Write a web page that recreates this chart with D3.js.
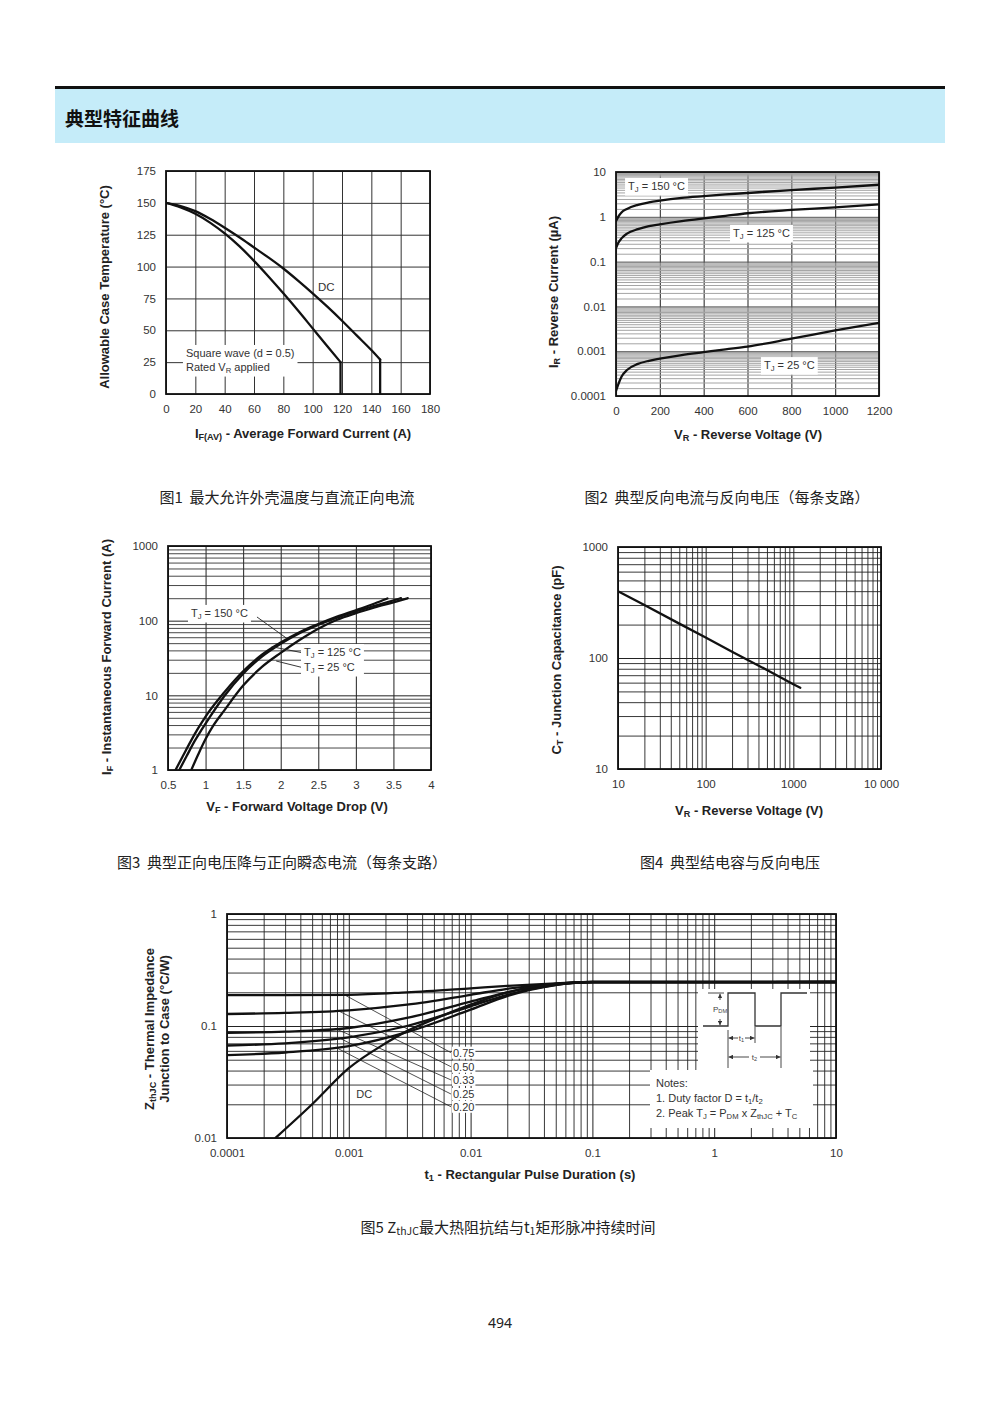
<!DOCTYPE html>
<html>
<head>
<meta charset="utf-8">
<title>典型特征曲线</title>
<script src="https://cdn.jsdelivr.net/npm/d3@7/dist/d3.min.js"></script>
<style>
html,body{margin:0;padding:0;background:#fff;}
svg{display:block;}
text.cap{white-space:pre;}
</style>
</head>
<body>
<svg id="page" width="1000" height="1414" xmlns="http://www.w3.org/2000/svg"></svg>
<script>
// ================= DATA =================
// Fig 1 : Allowable case temperature vs average forward current
const fig1XTicks = [0, 20, 40, 60, 80, 100, 120, 140, 160, 180];
const fig1YTicks = [0, 25, 50, 75, 100, 125, 150, 175];
const fig1SquareWave = [[0,150],[10,146.5],[20,141.5],[30,134.5],[40,126],[50,116],[60,104.5],[70,92],[80,79],[90,65.5],[100,51.5],[110,37.5],[119,25],[119,0]];
const fig1DC = [[0,150],[10,147.5],[20,143.5],[30,137.5],[40,130.5],[50,123],[60,115],[70,107],[80,98.5],[90,89],[100,79],[110,68.5],[120,57.5],[130,46],[140,34.5],[146,27],[146,0]];

// Fig 2 : Reverse current vs reverse voltage
const fig2XTicks = [0, 200, 400, 600, 800, 1000, 1200];
const fig2YTicks = [0.0001, 0.001, 0.01, 0.1, 1, 10];
const fig2YLabels = ["0.0001", "0.001", "0.01", "0.1", "1", "10"];
const fig2MinorSteps = [1.5, 2, 2.5, 3, 3.5, 4, 4.5, 5, 5.5, 6, 6.5, 7, 7.5, 8, 8.5, 9, 9.5];
const fig2Tj150 = [[0,0.8],[10,1.0],[25,1.25],[50,1.5],[100,1.85],[150,2.1],[200,2.3],[300,2.65],[400,2.9],[500,3.15],[600,3.4],[800,3.95],[1000,4.5],[1200,5.2]];
const fig2Tj125 = [[0,0.2],[10,0.26],[25,0.33],[50,0.42],[100,0.53],[150,0.62],[200,0.68],[300,0.8],[400,0.92],[500,1.05],[600,1.2],[800,1.42],[1000,1.62],[1200,1.9]];
const fig2Tj25 = [[0,0.00013],[10,0.00018],[25,0.00027],[50,0.00038],[100,0.00052],[150,0.00061],[200,0.00068],[300,0.00082],[400,0.00095],[500,0.0011],[600,0.00127],[800,0.0019],[1000,0.0029],[1200,0.0043]];

// Fig 3 : Forward current vs forward voltage drop
const fig3XTicks = [0.5, 1, 1.5, 2, 2.5, 3, 3.5, 4];
const fig3YTicks = [1, 10, 100, 1000];
const fig3Tj150 = [[0.6,1],[0.7,1.55],[0.8,2.4],[0.9,3.6],[1.0,5.2],[1.25,11],[1.5,21],[1.75,35],[2.0,51],[2.25,70],[2.5,90],[2.75,113],[3.0,138],[3.25,170],[3.42,198]];
const fig3Tj125 = [[0.65,1],[0.75,1.55],[0.85,2.4],[0.95,3.5],[1.05,5],[1.25,9.8],[1.5,19.5],[1.75,33],[2.0,49],[2.25,68],[2.5,88],[2.75,110],[3.0,133],[3.25,158],[3.6,200]];
const fig3Tj25 = [[0.81,1],[0.9,1.6],[1.0,2.6],[1.1,3.9],[1.25,6.3],[1.5,13.5],[1.75,24],[2.0,37],[2.25,55],[2.5,78],[2.75,103],[3.0,126],[3.25,150],[3.5,176],[3.69,200]];

// Fig 4 : Junction capacitance vs reverse voltage
const fig4XTicks = [10, 100, 1000, 10000];
const fig4XLabels = ["10", "100", "1000", "10 000"];
const fig4YTicks = [10, 100, 1000];
const fig4Cap = [[10,400],[20,300],[50,204],[100,153],[200,114],[500,78],[1000,58],[1200,54]];

// Fig 5 : Thermal impedance vs pulse duration
const fig5XTicks = [0.0001, 0.001, 0.01, 0.1, 1, 10];
const fig5XLabels = ["0.0001", "0.001", "0.01", "0.1", "1", "10"];
const fig5YTicks = [0.01, 0.1, 1];
const fig5YLabels = ["0.01", "0.1", "1"];
const fig5D075 = [[0.0001,0.189],[0.0003,0.189],[0.001,0.19],[0.003,0.2],[0.01,0.217],[0.02,0.228],[0.05,0.24],[0.1,0.247],[10,0.247]];
const fig5D050 = [[0.0001,0.128],[0.0003,0.131],[0.001,0.138],[0.003,0.155],[0.01,0.19],[0.02,0.215],[0.05,0.238],[0.1,0.247],[10,0.247]];
const fig5D033 = [[0.0001,0.087],[0.0003,0.089],[0.001,0.096],[0.003,0.118],[0.01,0.165],[0.02,0.2],[0.05,0.235],[0.1,0.246],[10,0.247]];
const fig5D025 = [[0.0001,0.067],[0.0003,0.07],[0.001,0.079],[0.003,0.1],[0.01,0.15],[0.02,0.19],[0.05,0.233],[0.1,0.246],[10,0.247]];
const fig5D020 = [[0.0001,0.055],[0.0003,0.058],[0.001,0.066],[0.003,0.088],[0.01,0.14],[0.02,0.185],[0.05,0.232],[0.1,0.246],[10,0.247]];
const fig5DC = [[0.00025,0.01],[0.0005,0.02],[0.001,0.042],[0.002,0.07],[0.003,0.09],[0.005,0.115],[0.01,0.155],[0.02,0.2],[0.05,0.238],[0.1,0.247],[10,0.247]];
const fig5DutyLabels = ["0.75", "0.50", "0.33", "0.25", "0.20"];
const fig5LeaderStart = [[0.00092,0.19],[0.00084,0.135],[0.00079,0.094],[0.00084,0.078],[0.00079,0.064]];
const fig5LabelY = [0.0578, 0.0433, 0.033, 0.0247, 0.019];
const fig5LabelX = 0.0069;

// ================= DRAWING =================
const svg = d3.select("#page");
const LAT = '"Liberation Sans", Arial, Helvetica, sans-serif';
const CJK = '"Noto Sans CJK SC", "Noto Sans", sans-serif';
const TICK_FS = 11.5, TITLE_FS = 13;

svg.append("defs").html(
  '<marker id="arr" viewBox="0 0 6 6" refX="6" refY="3" markerWidth="5" markerHeight="5" orient="auto-start-reverse"><path d="M0,0L6,3L0,6Z" fill="#333"/></marker>'
);

function richText(g, x, y, parts, o) {
  const fs = o.size;
  const t = g.append("text").attr("x", x).attr("y", y)
    .attr("font-size", fs).attr("font-family", o.family || LAT)
    .attr("font-weight", o.weight || "normal").attr("fill", o.fill || "#333")
    .attr("text-anchor", o.anchor || "start");
  if (o.baseline) t.attr("dominant-baseline", o.baseline);
  if (o.rotate) t.attr("transform", `rotate(-90 ${x} ${y})`);
  if (o.cls) t.attr("class", o.cls);
  let sub = false; const sh = fs * 0.28;
  parts.forEach(p => {
    const isSub = typeof p === "object";
    const ts = t.append("tspan").text(isSub ? p.sub : p);
    if (isSub) ts.attr("font-size", fs * 0.7);
    if (isSub && !sub) ts.attr("dy", sh);
    else if (!isSub && sub) ts.attr("dy", -sh);
    sub = isSub;
  });
  return t;
}
function boxBehind(g, nodes, padX, padY) {
  let x0 = Infinity, y0 = Infinity, x1 = -Infinity, y1 = -Infinity;
  nodes.forEach(n => { const b = n.node().getBBox(); x0 = Math.min(x0, b.x); y0 = Math.min(y0, b.y); x1 = Math.max(x1, b.x + b.width); y1 = Math.max(y1, b.y + b.height); });
  g.insert("rect", () => nodes[0].node())
    .attr("x", x0 - padX).attr("y", y0 - padY).attr("width", x1 - x0 + 2 * padX).attr("height", y1 - y0 + 2 * padY)
    .attr("fill", "#fff");
}
function caption(x, y, str) {
  svg.append("text").attr("class", "cap").attr("x", x).attr("y", y)
    .attr("dominant-baseline", "central").attr("text-anchor", "middle")
    .attr("font-family", CJK).attr("font-size", 15).attr("fill", "#222").text(str);
}

let clipId = 0;
function panel(c) {
  const g = svg.append("g").attr("transform", `translate(${c.left},${c.top})`);
  const x = (c.xLog ? d3.scaleLog() : d3.scaleLinear()).domain(c.xDomain).range([0, c.w]);
  const y = (c.yLog ? d3.scaleLog() : d3.scaleLinear()).domain(c.yDomain).range([c.h, 0]);
  g.append("rect").attr("width", c.w).attr("height", c.h).attr("fill", "#fff");
  const grid = g.append("g");
  (c.xGrid || []).forEach(s => {
    const a = grid.append("g").attr("transform", `translate(0,${c.h})`)
      .call(d3.axisBottom(x).tickValues(s.vals).tickSize(-c.h).tickFormat(""));
    a.select(".domain").remove();
    a.selectAll("line").attr("stroke", s.color).attr("stroke-width", s.width);
  });
  (c.yGrid || []).forEach(s => {
    const a = grid.append("g")
      .call(d3.axisLeft(y).tickValues(s.vals).tickSize(-c.w).tickFormat(""));
    a.select(".domain").remove();
    a.selectAll("line").attr("stroke", s.color).attr("stroke-width", s.width);
  });
  const ax = g.append("g").attr("transform", `translate(0,${c.h})`)
    .call(d3.axisBottom(x).tickValues(c.xTicks).tickSize(0).tickPadding(11).tickFormat((d, i) => c.xLabels[i]));
  ax.select(".domain").remove();
  ax.selectAll("text").attr("font-size", TICK_FS).attr("font-family", LAT).attr("fill", "#333");
  const ay = g.append("g")
    .call(d3.axisLeft(y).tickValues(c.yTicks).tickSize(0).tickPadding(10).tickFormat((d, i) => c.yLabels[i]));
  ay.select(".domain").remove();
  ay.selectAll("text").attr("font-size", TICK_FS).attr("font-family", LAT).attr("fill", "#333");
  const id = "clip" + (clipId++);
  g.append("clipPath").attr("id", id).append("rect").attr("width", c.w).attr("height", c.h);
  const annot = g.append("g");
  const marks = g.append("g").attr("clip-path", `url(#${id})`);
  const top = g.append("g");
  return {
    g, x, y, annot, marks, top,
    line(data, curve, width) {
      const gen = d3.line().x(d => x(d[0])).y(d => y(d[1])).curve(curve || d3.curveMonotoneX);
      marks.append("path").attr("d", gen(data)).attr("fill", "none").attr("stroke", "#111")
        .attr("stroke-width", width || 2.3).attr("stroke-linejoin", "round").attr("stroke-linecap", "round");
    },
    frame() {
      g.append("rect").attr("width", c.w).attr("height", c.h).attr("fill", "none")
        .attr("stroke", "#111").attr("stroke-width", 1.8);
    }
  };
}
function logMinor(decades, steps) {
  const out = [];
  decades.slice(0, -1).forEach(d => steps.forEach(m => out.push(d * m)));
  return out;
}

// ---------- Header ----------
svg.append("rect").attr("x", 55).attr("y", 86).attr("width", 890).attr("height", 3).attr("fill", "#111");
svg.append("rect").attr("x", 55).attr("y", 89).attr("width", 890).attr("height", 54).attr("fill", "#c5ecf9");
svg.append("text").attr("x", 65).attr("y", 117).attr("dominant-baseline", "central")
  .attr("font-family", CJK).attr("font-weight", "bold").attr("font-size", 19).attr("fill", "#111")
  .text("典型特征曲线");

// ---------- Figure 1 ----------
{
  const p = panel({
    left: 166, top: 171, w: 264, h: 223,
    xDomain: [0, 180], yDomain: [0, 175],
    xTicks: fig1XTicks, xLabels: fig1XTicks.map(String),
    yTicks: fig1YTicks, yLabels: fig1YTicks.map(String),
    xGrid: [{ vals: fig1XTicks, color: "#333", width: 1 }],
    yGrid: [{ vals: fig1YTicks, color: "#333", width: 1 }]
  });
  const a = p.annot;
  const t1 = richText(a, p.x(13.6), p.y(32.2), ["Square wave (d = 0.5)"], { size: 11, baseline: "central" });
  const t2 = richText(a, p.x(13.6), p.y(21.2), ["Rated V", { sub: "R" }, " applied"], { size: 11, baseline: "central" });
  boxBehind(a, [t1, t2], 3, 2);
  richText(a, p.x(103.6), p.y(84), ["DC"], { size: 11.5, baseline: "central" });
  p.line(fig1SquareWave.slice(0, -1));
  p.line(fig1SquareWave.slice(-2), d3.curveLinear);
  p.line(fig1DC.slice(0, -1));
  p.line(fig1DC.slice(-2), d3.curveLinear);
  p.frame();
  richText(svg, 104, 287, ["Allowable Case Temperature (°C)"], { size: TITLE_FS, weight: "bold", fill: "#222", anchor: "middle", baseline: "central", rotate: true });
  richText(svg, 303, 433, ["I", { sub: "F(AV)" }, " - Average Forward Current (A)"], { size: TITLE_FS, weight: "bold", fill: "#222", anchor: "middle", baseline: "central" });
  caption(287, 496, "图1  最大允许外壳温度与直流正向电流");
}

// ---------- Figure 2 ----------
{
  const p = panel({
    left: 616, top: 172, w: 263, h: 224,
    xDomain: [0, 1200], yLog: true, yDomain: [0.0001, 10],
    xTicks: fig2XTicks, xLabels: fig2XTicks.map(String),
    yTicks: fig2YTicks, yLabels: fig2YLabels,
    xGrid: [{ vals: fig2XTicks, color: "#333", width: 1.1 }],
    yGrid: [{ vals: logMinor(fig2YTicks, fig2MinorSteps), color: "#a4a4a4", width: 1 },
            { vals: fig2YTicks, color: "#555", width: 1 }]
  });
  const a = p.annot;
  const l1 = richText(a, p.x(55), p.y(4.87), ["T", { sub: "J" }, " = 150 °C"], { size: 11, baseline: "central" });
  boxBehind(a, [l1], 3, 2);
  const l2 = richText(a, p.x(534), p.y(0.436), ["T", { sub: "J" }, " = 125 °C"], { size: 11, baseline: "central" });
  boxBehind(a, [l2], 3, 2);
  const l3 = richText(a, p.x(675), p.y(0.00049), ["T", { sub: "J" }, " = 25 °C"], { size: 11, baseline: "central" });
  boxBehind(a, [l3], 3, 2);
  p.line(fig2Tj150);
  p.line(fig2Tj125);
  p.line(fig2Tj25);
  p.frame();
  richText(svg, 553, 292, ["I", { sub: "R" }, " - Reverse Current (µA)"], { size: TITLE_FS, weight: "bold", fill: "#222", anchor: "middle", baseline: "central", rotate: true });
  richText(svg, 748, 434, ["V", { sub: "R" }, " - Reverse Voltage (V)"], { size: TITLE_FS, weight: "bold", fill: "#222", anchor: "middle", baseline: "central" });
  caption(727, 496, "图2  典型反向电流与反向电压（每条支路）");
}

// ---------- Figure 3 ----------
{
  const p = panel({
    left: 168, top: 546, w: 263, h: 224,
    xDomain: [0.5, 4], yLog: true, yDomain: [1, 1000],
    xTicks: fig3XTicks, xLabels: fig3XTicks.map(String),
    yTicks: fig3YTicks, yLabels: fig3YTicks.map(String),
    xGrid: [{ vals: fig3XTicks, color: "#222", width: 1 }],
    yGrid: [{ vals: logMinor(fig3YTicks, [2, 3, 4, 5, 6, 7, 8, 9]), color: "#333", width: 0.9 },
            { vals: fig3YTicks, color: "#222", width: 1 }]
  });
  const a = p.annot, top = p.top;
  const l1 = richText(a, p.x(0.806), p.y(127), ["T", { sub: "J" }, " = 150 °C"], { size: 11, baseline: "central" });
  boxBehind(a, [l1], 3, 2);
  const l2 = richText(a, p.x(2.31), p.y(38), ["T", { sub: "J" }, " = 125 °C"], { size: 11, baseline: "central" });
  const l3 = richText(a, p.x(2.31), p.y(24), ["T", { sub: "J" }, " = 25 °C"], { size: 11, baseline: "central" });
  boxBehind(a, [l2, l3], 3, 2);
  p.line(fig3Tj150);
  p.line(fig3Tj125);
  p.line(fig3Tj25);
  const leaders = [[[1.684, 112], [2.08, 58]], [[2.27, 37.5], [1.88, 44.8]], [[2.27, 23.8], [1.94, 28.8]]];
  leaders.forEach(l => top.append("line").attr("x1", p.x(l[0][0])).attr("y1", p.y(l[0][1]))
    .attr("x2", p.x(l[1][0])).attr("y2", p.y(l[1][1])).attr("stroke", "#222").attr("stroke-width", 0.9));
  p.frame();
  richText(svg, 106, 657, ["I", { sub: "F" }, " - Instantaneous Forward Current (A)"], { size: TITLE_FS, weight: "bold", fill: "#222", anchor: "middle", baseline: "central", rotate: true });
  richText(svg, 297, 806, ["V", { sub: "F" }, " - Forward Voltage Drop (V)"], { size: TITLE_FS, weight: "bold", fill: "#222", anchor: "middle", baseline: "central" });
  caption(282, 861, "图3  典型正向电压降与正向瞬态电流（每条支路）");
}

// ---------- Figure 4 ----------
{
  const p = panel({
    left: 618, top: 547, w: 263, h: 222,
    xLog: true, xDomain: [10, 10000], yLog: true, yDomain: [10, 1000],
    xTicks: fig4XTicks, xLabels: fig4XLabels,
    yTicks: fig4YTicks, yLabels: fig4YTicks.map(String),
    xGrid: [{ vals: logMinor(fig4XTicks, [2, 3, 4, 5, 6, 7, 8, 9]), color: "#222", width: 0.9 },
            { vals: fig4XTicks, color: "#222", width: 1 }],
    yGrid: [{ vals: logMinor(fig4YTicks, [2, 3, 4, 5, 6, 7, 8, 9]), color: "#222", width: 0.9 },
            { vals: fig4YTicks, color: "#222", width: 1 }]
  });
  p.line(fig4Cap, d3.curveLinear);
  p.frame();
  richText(svg, 556, 660, ["C", { sub: "T" }, " - Junction Capacitance (pF)"], { size: TITLE_FS, weight: "bold", fill: "#222", anchor: "middle", baseline: "central", rotate: true });
  richText(svg, 749, 810, ["V", { sub: "R" }, " - Reverse Voltage (V)"], { size: TITLE_FS, weight: "bold", fill: "#222", anchor: "middle", baseline: "central" });
  caption(730, 861, "图4  典型结电容与反向电压");
}

// ---------- Figure 5 ----------
{
  const p = panel({
    left: 227, top: 914, w: 609, h: 224,
    xLog: true, xDomain: [0.0001, 10], yLog: true, yDomain: [0.01, 1],
    xTicks: fig5XTicks, xLabels: fig5XLabels,
    yTicks: fig5YTicks, yLabels: fig5YLabels,
    xGrid: [{ vals: logMinor(fig5XTicks, [2, 3, 4, 5, 6, 7, 8, 9]), color: "#222", width: 0.9 },
            { vals: fig5XTicks, color: "#222", width: 1 }],
    yGrid: [{ vals: logMinor(fig5YTicks, [2, 3, 4, 5, 6, 7, 8, 9]), color: "#222", width: 0.9 },
            { vals: fig5YTicks, color: "#222", width: 1 }]
  });
  const a = p.annot;
  // inset backgrounds (pulse diagram and notes)
  a.append("rect").attr("x", 471).attr("y", 75).attr("width", 112).attr("height", 82).attr("fill", "#fff");
  a.append("rect").attr("x", 423).attr("y", 156).attr("width", 163).attr("height", 58).attr("fill", "#fff");
  // leader lines for duty factors
  fig5DutyLabels.forEach((lab, i) => {
    a.append("line").attr("x1", p.x(fig5LeaderStart[i][0])).attr("y1", p.y(fig5LeaderStart[i][1]))
      .attr("x2", p.x(fig5LabelX)).attr("y2", p.y(fig5LabelY[i])).attr("stroke", "#222").attr("stroke-width", 0.8);
    const t = richText(a, p.x(fig5LabelX) + 2, p.y(fig5LabelY[i]), [lab], { size: 11, baseline: "central" });
    boxBehind(a, [t], 1, 0);
  });
  richText(a, p.x(0.00115), p.y(0.0247), ["DC"], { size: 11, baseline: "central" });
  [fig5D075, fig5D050, fig5D033, fig5D025, fig5D020].forEach(d => p.line(d, d3.curveMonotoneX, 2.3));
  p.line(fig5DC, d3.curveMonotoneX, 2.3);

  // pulse diagram
  const ins = p.top.append("g").attr("transform", "translate(476,79)");
  const pulse = [[0,33],[25,33],[25,0],[52,0],[52,33],[78,33],[78,0],[104,0]];
  ins.append("path").attr("d", d3.line()(pulse)).attr("fill", "none").attr("stroke", "#333").attr("stroke-width", 1.3);
  const thin = (x1, y1, x2, y2, mk) => {
    const l = ins.append("line").attr("x1", x1).attr("y1", y1).attr("x2", x2).attr("y2", y2).attr("stroke", "#333").attr("stroke-width", 0.9);
    if (mk) l.attr("marker-end", "url(#arr)");
    return l;
  };
  thin(5, 0, 21, 0);
  thin(17, 7, 17, 0.8, true);
  thin(17, 26, 17, 32.2, true);
  richText(ins, 10, 16, ["P", { sub: "DM" }], { size: 8, baseline: "central", fill: "#444" });
  thin(25, 37, 25, 75);
  thin(52, 34, 52, 50);
  thin(78, 34, 78, 75);
  thin(35, 45, 25.5, 45, true);
  thin(42, 45, 51.5, 45, true);
  richText(ins, 38.5, 45, ["t", { sub: "1" }], { size: 8, baseline: "central", anchor: "middle", fill: "#444" });
  thin(46, 64, 25.5, 64, true);
  thin(57, 64, 77.5, 64, true);
  richText(ins, 51.5, 64, ["t", { sub: "2" }], { size: 8, baseline: "central", anchor: "middle", fill: "#444" });

  // notes
  const nt = p.top.append("g").attr("transform", "translate(429,169)");
  richText(nt, 0, 0, ["Notes:"], { size: 11, baseline: "central" });
  richText(nt, 0, 15, ["1. Duty factor D = t", { sub: "1" }, "/t", { sub: "2" }], { size: 11, baseline: "central" });
  richText(nt, 0, 30, ["2. Peak T", { sub: "J" }, " = P", { sub: "DM" }, " x Z", { sub: "thJC" }, " + T", { sub: "C" }], { size: 11, baseline: "central" });
  p.frame();

  richText(svg, 149, 1029, ["Z", { sub: "thJC" }, " - Thermal Impedance"], { size: TITLE_FS, weight: "bold", fill: "#222", anchor: "middle", baseline: "central", rotate: true });
  richText(svg, 164, 1029, ["Junction to Case (°C/W)"], { size: TITLE_FS, weight: "bold", fill: "#222", anchor: "middle", baseline: "central", rotate: true });
  richText(svg, 530, 1174, ["t", { sub: "1" }, " - Rectangular Pulse Duration (s)"], { size: TITLE_FS, weight: "bold", fill: "#222", anchor: "middle", baseline: "central" });
  richText(svg, 508, 1226, ["图5 Z", { sub: "thJC" }, "最大热阻抗结与t", { sub: "1" }, "矩形脉冲持续时间"], { size: 15, family: CJK, fill: "#222", anchor: "middle", baseline: "central" });
}

// ---------- Page number ----------
svg.append("text").attr("x", 500).attr("y", 1322).attr("dominant-baseline", "central").attr("text-anchor", "middle")
  .attr("font-family", '"Noto Sans", sans-serif').attr("font-size", 14).attr("fill", "#222").text("494");
</script>
</body>
</html>
